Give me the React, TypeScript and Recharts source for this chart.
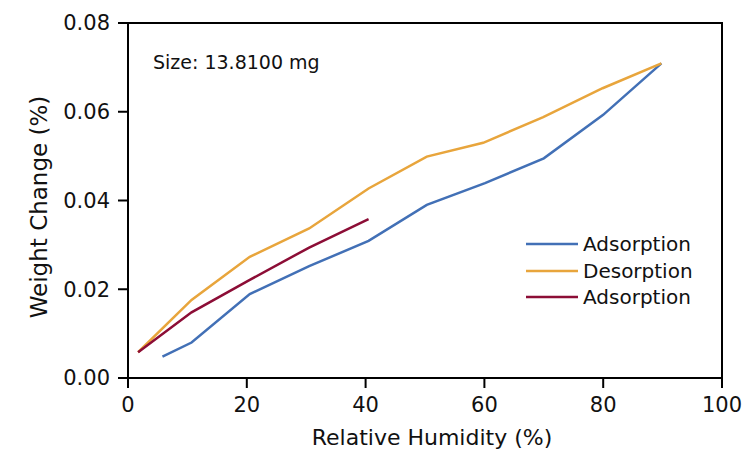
import React from "react";
import { LineChart, Line, XAxis, YAxis, ReferenceArea, Label } from "recharts";

const rhAds1 = [5.8, 10.7, 20.5, 30.5, 40.5, 50.3, 60.1, 70, 80, 89.8];
const wAds1 = [0.0048, 0.008, 0.0189, 0.0252, 0.0309, 0.039, 0.0439, 0.0495, 0.0593, 0.0709];
const rhDes = [89.8, 79.9, 69.9, 59.8, 50.3, 40.5, 30.5, 20.5, 10.7, 1.7];
const wDes = [0.0709, 0.0653, 0.0588, 0.053, 0.0499, 0.0427, 0.0337, 0.0273, 0.0176, 0.0058];
const rhAds2 = [1.7, 10.7, 20.5, 30.5, 40.5];
const wAds2 = [0.0058, 0.0148, 0.0221, 0.0294, 0.0358];

const xTicks = [0, 20, 40, 60, 80, 100];
const yTicks = [0, 0.02, 0.04, 0.06, 0.08];

const seriesNames = ["Adsorption", "Desorption", "Adsorption"];
const seriesColors = ["#4270B6", "#E8A53C", "#8C0D36"];
const sizeNote = "Size: 13.8100 mg";
const xTitle = "Relative Humidity (%)";
const yTitle = "Weight Change (%)";

const toRows = (xs: number[], ys: number[]) => xs.map((rh, i) => ({ rh, w: ys[i] }));
const ads1 = toRows(rhAds1, wAds1);
const des = toRows(rhDes, wDes);
const ads2 = toRows(rhAds2, wAds2);

const FONT = "'DejaVu Sans', sans-serif";

export default function App() {
  return (
    <div style={{ position: "absolute", left: 0, top: 0, width: 743, height: 452, background: "#fff" }}>
      <LineChart width={743} height={452} margin={{ top: 23, right: 21, bottom: 34, left: 68 }}>
        <XAxis
          dataKey="rh"
          type="number"
          domain={[0, 100]}
          ticks={xTicks}
          height={40}
          stroke="#000"
          strokeWidth={2}
          tickSize={10}
          tickMargin={9}
          tick={{ fill: "#111", fontSize: 21, fontFamily: FONT }}
          allowDataOverflow
        >
          <Label
            content={() => (
              <text x={432} y={445} textAnchor="middle" fontSize={22} fontFamily={FONT} fill="#111">
                {xTitle}
              </text>
            )}
          />
        </XAxis>
        <YAxis
          dataKey="w"
          type="number"
          domain={[0, 0.08]}
          ticks={yTicks}
          width={60}
          stroke="#000"
          strokeWidth={2}
          tickSize={10}
          tickMargin={8}
          tickFormatter={(v: number) => v.toFixed(2)}
          tick={{ fill: "#111", fontSize: 21, fontFamily: FONT }}
          allowDataOverflow
        >
          <Label
            content={() => (
              <text
                x={39}
                y={207}
                textAnchor="middle"
                dominantBaseline="central"
                transform="rotate(-90 39 207)"
                fontSize={23}
                fontFamily={FONT}
                fill="#111"
              >
                {yTitle}
              </text>
            )}
          />
        </YAxis>
        <ReferenceArea x1={0} x2={100} y1={0} y2={0.08} fill="none" stroke="#000" strokeWidth={2} />
        <Line data={ads1} dataKey="w" name={seriesNames[0]} stroke={seriesColors[0]} strokeWidth={2.5} dot={false} isAnimationActive={false} />
        <Line data={des} dataKey="w" name={seriesNames[1]} stroke={seriesColors[1]} strokeWidth={2.5} dot={false} isAnimationActive={false} />
        <Line data={ads2} dataKey="w" name={seriesNames[2]} stroke={seriesColors[2]} strokeWidth={2.5} dot={false} isAnimationActive={false} />
      </LineChart>
      <div
        style={{
          position: "absolute",
          left: 153,
          top: 51,
          fontFamily: FONT,
          fontSize: 19,
          color: "#111",
          whiteSpace: "nowrap",
        }}
      >
        {sizeNote}
      </div>
      <div style={{ position: "absolute", left: 526, top: 231, fontFamily: FONT, fontSize: 20, color: "#111" }}>
        {seriesNames.map((n, i) => (
          <div key={i} style={{ display: "flex", alignItems: "center", height: 26.5 }}>
            <svg width={57} height={6} style={{ display: "block" }}>
              <line x1={0} y1={3} x2={52} y2={3} stroke={seriesColors[i]} strokeWidth={2.5} />
            </svg>
            <span style={{ lineHeight: "26px", whiteSpace: "nowrap" }}>{n}</span>
          </div>
        ))}
      </div>
    </div>
  );
}
